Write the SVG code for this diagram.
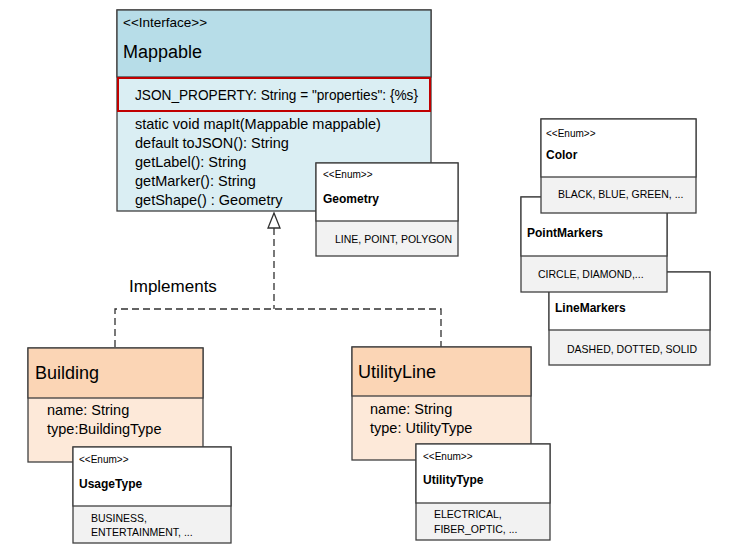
<svg xmlns="http://www.w3.org/2000/svg" width="744" height="551" viewBox="0 0 744 551">
<style>
text{font-family:"Liberation Sans",Arial,sans-serif;fill:#000}
.box{stroke:#404040;stroke-width:1.3}
.st{font-size:13.5px}
.title{font-size:18px}
.m{font-size:14.5px}
.es{font-size:10px}
.en{font-size:12px;font-weight:bold}
.ev{font-size:10.5px}
.conn{fill:none;stroke:#303030;stroke-width:1.3;stroke-dasharray:7,4}
</style>
<rect width="744" height="551" fill="#fff"/>
<g id="connectors">
<path class="conn" d="M274,228 V309 M115,347 V309 H441 V347"/>
<polygon points="274,213 268,228 280,228" fill="#fff" stroke="#303030" stroke-width="1.3"/>
<text x="129" y="292" style="font-size:17px">Implements</text>
</g>
<g id="mappable">
<rect class="box" x="117" y="10" width="314" height="201" fill="#daeef3"/>
<rect x="117" y="10" width="314" height="67" fill="#b7dde8" class="box"/>
<rect x="118" y="78" width="312" height="33" fill="#daeef3" stroke="#c00000" stroke-width="2"/>
<text class="st" x="123" y="27">&lt;&lt;Interface&gt;&gt;</text>
<text class="title" x="123" y="58">Mappable</text>
<text class="m" x="135" y="100" textLength="283" lengthAdjust="spacingAndGlyphs">JSON_PROPERTY: String = "properties": {%s}</text>
<text class="m" x="135" y="129">static void mapIt(Mappable mappable)</text>
<text class="m" x="135" y="148">default toJSON(): String</text>
<text class="m" x="135" y="167">getLabel(): String</text>
<text class="m" x="135" y="186">getMarker(): String</text>
<text class="m" x="135" y="205">getShape() : Geometry</text>
</g>
<g id="geometry">
<rect class="box" x="316" y="163" width="142" height="93" fill="#f2f2f2"/>
<rect class="box" x="316" y="163" width="142" height="58" fill="#fff"/>
<text class="es" x="323" y="178">&lt;&lt;Enum&gt;&gt;</text>
<text class="en" x="323" y="203">Geometry</text>
<text class="ev" x="335" y="243">LINE, POINT, POLYGON</text>
</g>
<g id="linemarkers">
<rect class="box" x="549" y="272" width="161" height="93" fill="#f2f2f2"/>
<rect class="box" x="549" y="272" width="161" height="58" fill="#fff"/>
<text class="en" x="555" y="312">LineMarkers</text>
<text class="ev" x="567" y="353">DASHED, DOTTED, SOLID</text>
</g>
<g id="pointmarkers">
<rect class="box" x="521" y="197" width="146" height="95" fill="#f2f2f2"/>
<rect class="box" x="521" y="197" width="146" height="59" fill="#fff"/>
<text class="en" x="527" y="237">PointMarkers</text>
<text class="ev" x="538" y="278">CIRCLE, DIAMOND,...</text>
</g>
<g id="color">
<rect class="box" x="541" y="119" width="155" height="94" fill="#f2f2f2"/>
<rect class="box" x="541" y="119" width="155" height="58" fill="#fff"/>
<text class="es" x="546" y="137">&lt;&lt;Enum&gt;&gt;</text>
<text class="en" x="546" y="159">Color</text>
<text class="ev" x="558" y="198">BLACK, BLUE, GREEN, ...</text>
</g>
<g id="building">
<rect class="box" x="28" y="348" width="175" height="114" fill="#fde9d9"/>
<rect class="box" x="28" y="348" width="175" height="50" fill="#fbd5b5"/>
<text class="title" x="35" y="379">Building</text>
<text class="m" x="47" y="415">name: String</text>
<text class="m" x="47" y="434">type:BuildingType</text>
</g>
<g id="usagetype">
<rect class="box" x="73" y="447" width="158" height="96" fill="#f2f2f2"/>
<rect class="box" x="73" y="447" width="158" height="59" fill="#fff"/>
<text class="es" x="79" y="463">&lt;&lt;Enum&gt;&gt;</text>
<text class="en" x="79" y="488">UsageType</text>
<text class="ev" x="91" y="522">BUSINESS,</text>
<text class="ev" x="91" y="536">ENTERTAINMENT,  ...</text>
</g>
<g id="utilityline">
<rect class="box" x="352" y="347" width="179" height="113" fill="#fde9d9"/>
<rect class="box" x="352" y="347" width="179" height="49" fill="#fbd5b5"/>
<text class="title" x="358" y="378">UtilityLine</text>
<text class="m" x="370" y="414">name: String</text>
<text class="m" x="370" y="433">type: UtilityType</text>
</g>
<g id="utilitytype">
<rect class="box" x="416" y="444" width="134" height="96" fill="#f2f2f2"/>
<rect class="box" x="416" y="444" width="134" height="59" fill="#fff"/>
<text class="es" x="423" y="460">&lt;&lt;Enum&gt;&gt;</text>
<text class="en" x="423" y="484">UtilityType</text>
<text class="ev" x="434" y="518">ELECTRICAL,</text>
<text class="ev" x="434" y="533">FIBER_OPTIC, ...</text>
</g>
</svg>
